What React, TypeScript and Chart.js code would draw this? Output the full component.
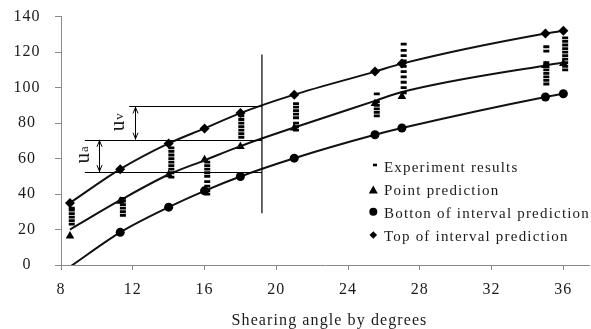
import React, { useEffect, useRef } from 'react';
import { Chart, registerables } from 'chart.js';

Chart.register(...registerables);

// ---------- data ----------
const xTickValues = [8, 12, 16, 20, 24, 28, 32, 36];
const yTickValues = [0, 20, 40, 60, 80, 100, 120, 140];

const predictionAngles = [8.5, 11.3, 14, 16, 18, 21, 25.5, 27, 35, 36];
const topInterval = [35, 54, 68.5, 77, 85.6, 96, 109, 113.5, 130.5, 132];
const pointPrediction = [16.4, 36, 50.8, 59.3, 66.8, 77.2, 91, 95, 112.5, 113.5];
const pointCurve = [20, 36.5, 51, 59, 67, 77.5, 92.5, 97.5, 112.5, 114];
const bottomInterval = [-1, 18.4, 32.6, 41.8, 49.9, 60.2, 73.4, 77.2, 94.7, 96.5];

const experimentAngles = [8.6, 11.45, 14.15, 16.15, 18.05, 21.1, 25.6, 27.1, 35.05, 36.1];
const experimentValues = [
  [23, 25, 27, 29, 31, 32],
  [28, 30, 32, 34, 36, 37.5],
  [49.5, 52, 54, 56, 58, 60, 62, 64, 66],
  [40, 42, 44.5, 47, 50, 52, 54, 56, 58],
  [72, 74, 76, 78, 80, 82, 84, 86],
  [76, 78, 80, 83, 85, 87, 89, 91],
  [84, 86, 88, 90, 92, 96.5],
  [97, 100, 103, 106, 109, 112, 115, 118, 121, 124.5],
  [102, 104, 106, 108, 110, 112, 114, 120.5, 123],
  [110, 112, 114, 116, 118, 120, 122, 124, 126, 128],
];

const legendLabels = [
  'Experiment results',
  'Point prediction',
  'Botton of interval prediction',
  'Top of interval prediction',
];
const xAxisTitle = 'Shearing angle by degrees';

// annotation (in data units)
const markerAngle = 19.2;
const markerSpan = [29.2, 118.6];
const bandLevels = [89.4, 70.6, 52.3];
const bandStarts = [11.8, 9.33, 9.33];
const arrowAngles = [12.1, 10.1];
const arrowSpans = [[70.6, 89.4], [52.3, 70.6]];
const symbolMain = ['u', 'u'];
const symbolSub = ['v', 'a'];
const symbolAngles = [11.53, 9.56];
const symbolLevels = [80.5, 62.1];

const FONT = "'Liberation Serif', 'Times New Roman', serif";
const AXIS_GREY = '#8a8a8a';
const INK = '#1a1a1a';
const SHIFT_Y = 9; // canvas is offset upward by this many pixels

function drawMarker(ctx: CanvasRenderingContext2D, kind: string, x: number, y: number) {
  ctx.save();
  ctx.fillStyle = '#000';
  ctx.strokeStyle = '#000';
  ctx.beginPath();
  if (kind === 'dash') {
    ctx.fillRect(x - 2, y - 1.3, 4, 2.6);
  } else if (kind === 'triangle') {
    ctx.moveTo(x, y - 4.5);
    ctx.lineTo(x + 4.5, y + 3.5);
    ctx.lineTo(x - 4.5, y + 3.5);
    ctx.closePath();
    ctx.fill();
  } else if (kind === 'circle') {
    ctx.arc(x, y, 4, 0, Math.PI * 2);
    ctx.fill();
  } else {
    ctx.moveTo(x, y - 3.8);
    ctx.lineTo(x + 3.8, y);
    ctx.lineTo(x, y + 3.8);
    ctx.lineTo(x - 3.8, y);
    ctx.closePath();
    ctx.fill();
  }
  ctx.restore();
}

const overlayPlugin = {
  id: 'overlay',
  beforeDraw(chart: any) {
    (chart.ctx as any).letterSpacing = '1px';
  },
  afterDatasetsDraw(chart: any) {
    const ctx: CanvasRenderingContext2D = chart.ctx;
    const xs = chart.scales.x;
    const ys = chart.scales.y;
    ctx.save();
    ctx.strokeStyle = '#000';
    ctx.lineWidth = 1.2;
    const vx = xs.getPixelForValue(markerAngle);
    ctx.beginPath();
    ctx.moveTo(vx, ys.getPixelForValue(markerSpan[0]));
    ctx.lineTo(vx, ys.getPixelForValue(markerSpan[1]));
    ctx.stroke();
    bandLevels.forEach((lv, i) => {
      const py = Math.round(ys.getPixelForValue(lv)) + 0.5;
      ctx.beginPath();
      ctx.moveTo(xs.getPixelForValue(bandStarts[i]), py);
      ctx.lineTo(vx, py);
      ctx.stroke();
    });
    ctx.lineWidth = 1;
    arrowAngles.forEach((ax, i) => {
      const px = Math.round(xs.getPixelForValue(ax)) + 0.5;
      const y1 = ys.getPixelForValue(arrowSpans[i][0]);
      const y2 = ys.getPixelForValue(arrowSpans[i][1]);
      ctx.beginPath();
      ctx.moveTo(px, y1);
      ctx.lineTo(px, y2);
      ctx.stroke();
      ctx.beginPath();
      ctx.moveTo(px - 2.5, y2 + 7);
      ctx.lineTo(px, y2 + 1);
      ctx.lineTo(px + 2.5, y2 + 7);
      ctx.moveTo(px - 2.5, y1 - 7);
      ctx.lineTo(px, y1 - 1);
      ctx.lineTo(px + 2.5, y1 - 7);
      ctx.stroke();
    });
    ctx.fillStyle = INK;
    (ctx as any).letterSpacing = '0px';
    symbolMain.forEach((m, i) => {
      const px = xs.getPixelForValue(symbolAngles[i]);
      const py = ys.getPixelForValue(symbolLevels[i]);
      ctx.save();
      ctx.translate(px, py);
      ctx.rotate(-Math.PI / 2);
      ctx.textBaseline = 'alphabetic';
      ctx.textAlign = 'left';
      ctx.font = `21px ${FONT}`;
      const wm = ctx.measureText(m).width;
      ctx.font = `13px ${FONT}`;
      const ws = ctx.measureText(symbolSub[i]).width;
      const start = -(wm + ws + 1) / 2;
      ctx.font = `21px ${FONT}`;
      ctx.fillText(m, start, 0);
      ctx.font = `13px ${FONT}`;
      ctx.fillText(symbolSub[i], start + wm + 1, -1);
      ctx.restore();
    });
    ctx.restore();
  },
  afterDraw(chart: any) {
    const ctx: CanvasRenderingContext2D = chart.ctx;
    ctx.save();
    ctx.fillStyle = INK;
    ctx.textBaseline = 'alphabetic';
    (ctx as any).letterSpacing = '1.1px';
    ctx.font = `16px ${FONT}`;
    ctx.textAlign = 'left';
    const tw = ctx.measureText(xAxisTitle).width;
    ctx.fillText(xAxisTitle, 329.5 - tw / 2, 325 + SHIFT_Y);
    (ctx as any).letterSpacing = '1.2px';
    ctx.font = `15px ${FONT}`;
    const kinds = ['dash', 'triangle', 'circle', 'diamond'];
    const markerY = [165, 190, 211.7, 235];
    const markerX = [375, 373.3, 373.3, 373.3];
    const baseY = [171.7, 195, 218.3, 241.3];
    legendLabels.forEach((lab, i) => {
      drawMarker(ctx, kinds[i], markerX[i], markerY[i] + SHIFT_Y);
      ctx.fillText(lab, 384, baseY[i] + SHIFT_Y);
    });
    ctx.restore();
  },
};

export default function App() {
  const ref = useRef<HTMLCanvasElement>(null);

  useEffect(() => {
    const canvas = ref.current;
    if (!canvas) return;

    const expPoints: { x: number; y: number }[] = [];
    experimentAngles.forEach((ax, i) => {
      experimentValues[i].forEach((v) => expPoints.push({ x: ax, y: v }));
    });
    const toXY = (arr: number[]) => predictionAngles.map((x, i) => ({ x, y: arr[i] }));

    const chart = new Chart(canvas, {
      type: 'scatter',
      data: {
        datasets: [
          {
            label: legendLabels[0],
            data: expPoints,
            showLine: false,
            pointStyle: 'line',
            pointRadius: 3,
            pointBorderWidth: 2.8,
            borderColor: '#000',
            backgroundColor: '#000',
          },
          {
            label: 'curve',
            data: toXY(pointCurve),
            showLine: true,
            pointRadius: 0,
            borderWidth: 2,
            borderColor: '#111',
            cubicInterpolationMode: 'monotone',
          },
          {
            label: legendLabels[1],
            data: toXY(pointPrediction),
            showLine: false,
            pointStyle: 'triangle',
            pointRadius: 5,
            pointBorderWidth: 0,
            backgroundColor: '#000',
            borderColor: '#000',
          },
          {
            label: legendLabels[2],
            data: toXY(bottomInterval),
            showLine: true,
            borderWidth: 2,
            borderColor: '#111',
            cubicInterpolationMode: 'monotone',
            pointStyle: 'circle',
            pointRadius: bottomInterval.map((_, i) => (i === 0 ? 0 : 4.5)),
            pointBorderWidth: 0,
            backgroundColor: '#000',
          },
          {
            label: legendLabels[3],
            data: toXY(topInterval),
            showLine: true,
            borderWidth: 2,
            borderColor: '#111',
            cubicInterpolationMode: 'monotone',
            pointStyle: 'rectRot',
            pointRadius: 5,
            pointBorderWidth: 0,
            backgroundColor: '#000',
          },
        ] as any,
      },
      options: {
        animation: false,
        responsive: false,
        devicePixelRatio: 1,
        events: [],
        layout: { padding: 0 },
        plugins: { legend: { display: false }, tooltip: { enabled: false } },
        scales: {
          x: {
            type: 'linear',
            min: 8,
            max: 37.44,
            afterBuildTicks: (s: any) => {
              s.ticks = xTickValues.map((v) => ({ value: v }));
            },
            afterFit: (s: any) => {
              s.height = 64;
            },
            grid: { drawOnChartArea: false, drawTicks: true, tickLength: 5, color: AXIS_GREY },
            border: { display: true, color: AXIS_GREY, width: 1 },
            ticks: {
              padding: 10,
              color: INK,
              font: { family: FONT, size: 16 },
              maxRotation: 0,
              autoSkip: false,
            },
            title: { display: false },
          },
          y: {
            type: 'linear',
            min: 0,
            max: 140,
            afterBuildTicks: (s: any) => {
              s.ticks = yTickValues.map((v) => ({ value: v }));
            },
            afterFit: (s: any) => {
              s.width = 61;
            },
            grid: { drawOnChartArea: false, drawTicks: true, tickLength: 6, color: AXIS_GREY },
            border: { display: true, color: AXIS_GREY, width: 1 },
            ticks: {
              padding: 16,
              crossAlign: 'center',
              color: INK,
              font: { family: FONT, size: 16 },
              autoSkip: false,
            },
          },
        },
      } as any,
      plugins: [overlayPlugin],
    });

    return () => chart.destroy();
  }, []);

  return (
    <div
      style={{
        position: 'fixed',
        left: 0,
        top: 0,
        width: 591,
        height: 329,
        overflow: 'hidden',
        background: '#fff',
      }}
    >
      <canvas
        ref={ref}
        width={596}
        height={338}
        style={{ position: 'absolute', left: 0, top: -SHIFT_Y, width: 596, height: 338, display: 'block' }}
      />
    </div>
  );
}
